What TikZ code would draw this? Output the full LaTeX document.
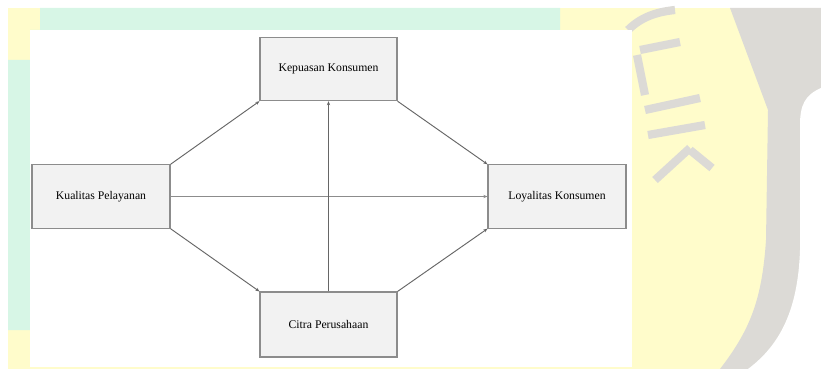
\documentclass[tikz,border=0pt]{standalone}
\usepackage{fontspec}
\setmainfont{Liberation Serif}
\usetikzlibrary{arrows.meta,positioning}
\definecolor{bgyel}{HTML}{FFFCCB}
\definecolor{bgmint}{HTML}{D7F6E6}
\definecolor{bggray}{HTML}{DCDAD6}
\tikzset{
  box/.style ={draw=black!45,line width=0.9pt,fill=black!5,font=\fontsize{10}{12}\selectfont,
               minimum width=4.11cm,minimum height=1.9cm,inner sep=2pt},
  ar/.style  ={-{Stealth[length=3.5pt,width=2.8pt]},draw=black!60,line width=0.8pt},
  thin/.style={-{Stealth[length=3.5pt,width=2.8pt]},draw=black!60,line width=0.6pt},
}

\begin{document}
\begin{tikzpicture}[x=0.03cm,y=-0.03cm]
  \useasboundingbox (0,0) rectangle (821,369);
  % watermark behind the figure
  \fill[bgyel] (8,8) rectangle (821,369);
  \fill[bgmint] (40,8) -- (560,8) -- (560,30) -- (30,30) -- (30,330) -- (8,330)
    -- (8,60) -- (40,60) -- cycle;
  \fill[bggray] (730,8) -- (821,8) -- (821,369) -- (720,369)
    .. controls (750,330) and (762,300) .. (766,240) -- (768,110) -- cycle;
  \fill[white] (821,88) .. controls (805,95) and (800,105) .. (800,125) -- (800,250)
    .. controls (798,310) and (780,345) .. (748,369) -- (821,369) -- cycle;
  \draw[bggray,line width=7pt] (628,30) .. controls (640,18) and (655,12) .. (675,10);
  \draw[bggray,line width=7pt] (640,50) -- (680,42) (637,55) -- (645,95)
    (645,110) -- (700,98) (648,135) -- (705,125) (655,180) -- (690,148)
    (690,150) -- (712,168);
  \fill[white] (30,30) rectangle (632,367);

  \node[box] (kep) at (328.5,69) {Kepuasan Konsumen};
  \node[box,minimum width=4.14cm] (kual) at (101,196.5) {Kualitas Pelayanan};
  \node[box,minimum width=4.14cm] (loy) at (557,196.5) {Loyalitas Konsumen};
  \node[box,minimum height=1.95cm] (cit) at (328.5,324.5) {Citra Perusahaan};

  \draw[ar] (kual.north east) -- (kep.south west);
  \draw[ar] (kep.south east) -- (loy.north west);
  \draw[ar] (kual.south east) -- (cit.north west);
  \draw[ar] (cit.north east) -- (loy.south west);
  \draw[ar,draw=black!45,line width=1pt] (kual) -- (loy);
  \draw[thin] (cit) -- (kep);
\end{tikzpicture}
\end{document}
